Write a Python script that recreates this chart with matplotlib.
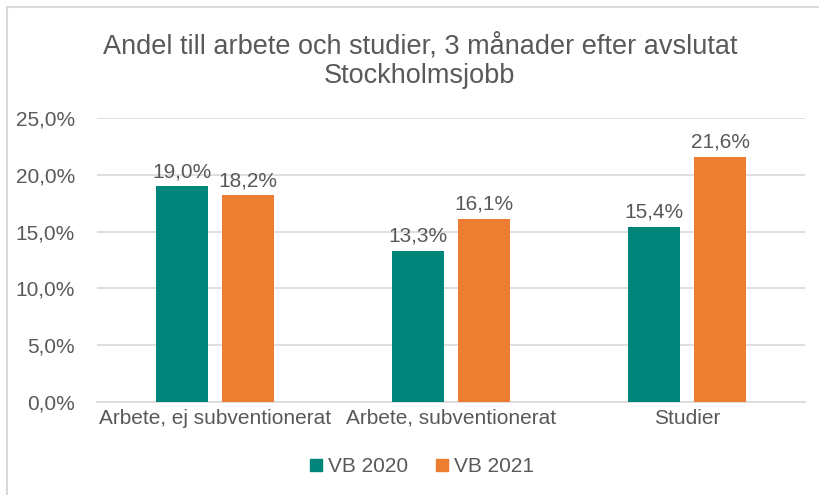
import matplotlib
matplotlib.use("Agg")
import matplotlib.pyplot as plt
from matplotlib.lines import Line2D
import numpy as np

categories = ["Arbete, ej subventionerat", "Arbete, subventionerat", "Studier"]
series_names = ["VB 2020", "VB 2021"]
vb2020 = [19.0, 13.3, 15.4]
vb2021 = [18.2, 16.1, 21.6]
yticks = [0, 5, 10, 15, 20, 25]
title = "Andel till arbete och studier, 3 månader efter avslutat\nStockholmsjobb"

colors = ["#00857A", "#ED7D31"]
txt = "#595959"
plt.rcParams['font.family'] = ['Liberation Sans', 'DejaVu Sans']

fig = plt.figure(figsize=(8.2, 4.95), dpi=100)
ax = fig.add_axes([0.1183, 0.1879, 0.8634, 0.5737])

x = np.arange(len(categories))
w = 0.22
off = 0.14
for vals, o, c in zip([vb2020, vb2021], [-off, off], colors):
    bars = ax.bar(x + o, vals, width=w, color=c, zorder=3)
    for b, v in zip(bars, vals):
        ax.text(b.get_x() + b.get_width() / 2, v + 0.45, f"{v:.1f}%".replace(".", ","),
                ha="center", va="bottom", fontsize=15, color=txt)

ax.set_xlim(-0.5, 2.5)
ax.set_ylim(0, 25)
ax.set_yticks(yticks)
ax.set_yticklabels([f"{t:.1f}%".replace(".", ",") for t in yticks], fontsize=15, color=txt)
ax.set_xticks(x)
ax.set_xticklabels(categories, fontsize=15, color=txt)
ax.tick_params(axis="both", length=0, pad=5)
ax.tick_params(axis="y", pad=16)
ax.yaxis.grid(True, color="#D9D9D9", linewidth=1.2, zorder=0)
for s in ["top", "right", "left"]:
    ax.spines[s].set_visible(False)
ax.spines["bottom"].set_color("#D9D9D9")
ax.spines["bottom"].set_linewidth(1.2)

fig.text(0.512, 0.877, title, ha="center", va="center", fontsize=19.5, color=txt, linespacing=1.2)

handles = [Line2D([], [], marker="s", linestyle="", markersize=8, color=c) for c in colors]
fig.legend(handles, series_names, loc="center", bbox_to_anchor=(0.512, 1 - 467 / 495),
           ncol=2, frameon=False, fontsize=15, labelcolor=txt, handletextpad=0.1,
           columnspacing=1.1, handlelength=1.0)

# figure border (left & top visible)
fig.add_artist(Line2D([7 / 820, 7 / 820], [0, 1 - 7 / 495], color="#D9D9D9", lw=1.5, transform=fig.transFigure))
fig.add_artist(Line2D([7 / 820, 1], [1 - 7 / 495, 1 - 7 / 495], color="#D9D9D9", lw=1.5, transform=fig.transFigure))

fig.savefig("out.png", dpi=100)
